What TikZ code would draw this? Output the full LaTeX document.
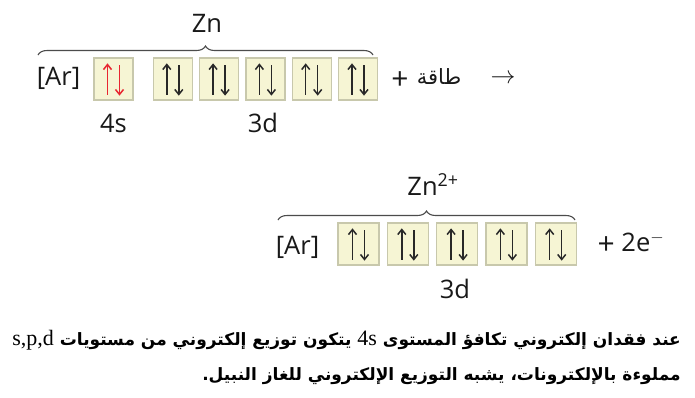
\documentclass[tikz,border=0pt]{standalone}
\usepackage{fontspec}
\setmainfont{Open Sans}
\newfontfamily\arabicfont[Script=Arabic]{DejaVu Sans}
\newfontfamily\romanfont{Liberation Serif}
\TeXXeTstate=1
\usetikzlibrary{positioning,decorations.pathreplacing,arrows.meta}

\definecolor{boxfill}{RGB}{246,245,212}
\definecolor{boxline}{RGB}{200,200,172}
\definecolor{spinred}{RGB}{232,38,48}
\definecolor{spingray}{RGB}{40,40,40}

\tikzstyle{orb} = [draw=boxline, fill=boxfill, line width=1.3pt, minimum width=39pt, minimum height=42pt, inner sep=0pt]
\tikzstyle{wideorb} = [orb, minimum width=41pt]
\tikzstyle{spin} = [line width=1.5pt, -{Straight Barb[length=5pt,width=8pt]}]
\tikzstyle{lbl} = [font=\fontsize{25.5}{28}\selectfont, inner sep=0pt, text=black!90]
\tikzstyle{brc} = [decorate, decoration={brace, amplitude=9pt}, line width=1.1pt, draw=black!70]
\tikzstyle{para} = [anchor=east, inner sep=0pt, font=\arabicfont\bfseries\fontsize{17}{20}\selectfont]

% two paired spins inside one orbital box
\newcommand{\spinpair}[2]{%
  \draw[spin,#2] ([xshift=-6pt,yshift=6pt]#1.south) -- ([xshift=-6pt,yshift=-6pt]#1.north);
  \draw[spin,#2] ([xshift=6pt,yshift=-8pt]#1.north) -- ([xshift=6pt,yshift=5pt]#1.south);}
\newcommand{\latinin}[1]{\beginL{\romanfont\mdseries\fontsize{22}{22}\selectfont #1}\endL{}}
\newcommand{\bigplus}{{\fontsize{30}{30}\selectfont\raisebox{-3pt}{+}}}

\begin{document}
\begin{tikzpicture}[x=1pt, y=-1pt]
\useasboundingbox[fill=white] (0,0) rectangle (695,397);

% Zn
\node[lbl] (ar1) at (58.5,78) {[Ar]};
\node[orb] (s4) at (113.5,79) {};
\node[orb, right=19pt of s4] (d1) {};
\node[orb, right=6pt of d1] (d2) {};
\node[orb, right=6pt of d2] (d3) {};
\node[orb, right=6pt of d3] (d4) {};
\node[orb, right=6pt of d4] (d5) {};
\spinpair{s4}{spinred}
\foreach \b in {d1,d2,d3,d4,d5} {\spinpair{\b}{spingray}}
\node[lbl] (s4lbl) at (113.5,123) {4s};
\node[lbl] (d3lbl) at (263,123) {3d};
\coordinate (zl) at (38,55);
\coordinate (zr) at (373,55);
\draw[brc] (zl) -- (zr);
\node[lbl] (zn) at (207,23) {Zn};
\node[lbl] (plus1) at (400,81) {\bigplus};
\node[lbl, font=\arabicfont\fontsize{21}{24}\selectfont] (energy) at (439,77) {\beginR طاقة\endR};
\node[lbl, font=\fontsize{29}{30}\selectfont] (yields) at (503,79) {$\rightarrow$};

% Zn2+
\node[lbl] (ar2) at (297.5,247) {[Ar]};
\node[wideorb] (e1) at (358.5,244) {};
\node[wideorb, right=7pt of e1] (e2) {};
\node[wideorb, right=7pt of e2] (e3) {};
\node[wideorb, right=7pt of e3] (e4) {};
\node[wideorb, right=7pt of e4] (e5) {};
\foreach \b in {e1,e2,e3,e4,e5} {\spinpair{\b}{spingray}}
\node[lbl] (e3lbl) at (455,289) {3d};
\coordinate (il) at (278,220);
\coordinate (ir) at (575,220);
\draw[brc] (il) -- (ir);
\node[lbl] (ion) at (433,185) {Zn\textsuperscript{2+}};
\node[lbl] (elec) at (631,243) {\bigplus{} 2e$^{-}$};

% caption
\node[para] (line1) at (681,340) {\beginR عند فقدان إلكتروني تكافؤ المستوى  \latinin{4s} يتكون توزيع إلكتروني من مستويات \latinin{s,p,d}\endR};
\node[para] (line2) at (681,376) {\beginR مملوءة بالإلكترونات، يشبه التوزيع الإلكتروني للغاز النبيل.\endR};
\end{tikzpicture}
\end{document}
